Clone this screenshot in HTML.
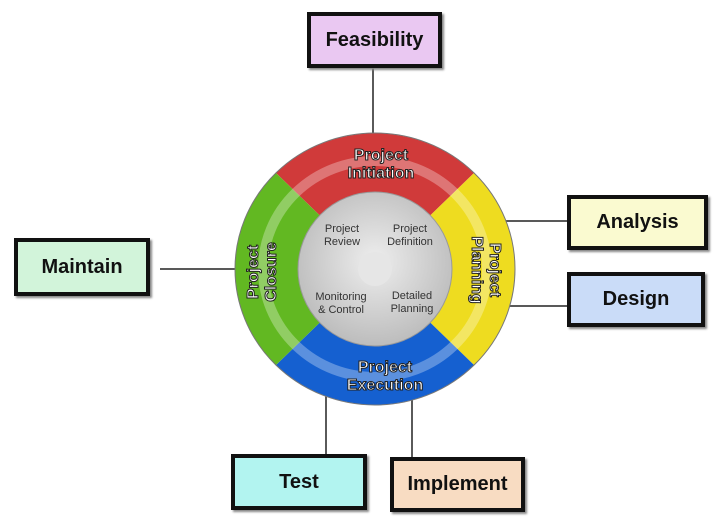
<!DOCTYPE html>
<html><head><meta charset="utf-8"><style>
html,body{margin:0;padding:0;background:#fff;}
.b{position:absolute;border:4px solid #111;box-sizing:border-box;display:flex;align-items:center;justify-content:center;font-family:"Liberation Sans",sans-serif;font-weight:bold;font-size:20px;color:#111;box-shadow:2px 2px 2px #888;}
</style></head><body>
<div style="position:relative;width:721px;height:529px;overflow:hidden;">
<svg width="721" height="529" style="position:absolute;left:0;top:0" font-family="Liberation Sans, sans-serif">
<defs>
<radialGradient id="g" cx="50%" cy="45%" r="60%"><stop offset="0" stop-color="#eee"/><stop offset="1" stop-color="#b8b8b8"/></radialGradient>
</defs>
<g stroke="#222" stroke-width="1.5">
<line x1="373" y1="68" x2="373" y2="134"/>
<line x1="505" y1="221" x2="567" y2="221"/>
<line x1="510" y1="306" x2="567" y2="306"/>
<line x1="160" y1="269" x2="237" y2="269"/>
<line x1="326" y1="395" x2="326" y2="454"/>
<line x1="412" y1="395" x2="412" y2="457"/>
</g>
<g transform="translate(375,269)">
<path d="M0,0 L-99,-96 A140,136 0 0 1 99,-96 Z" fill="#d03a3a"/>
<path d="M0,0 L99,-96 A140,136 0 0 1 99,96 Z" fill="#eedc20"/>
<path d="M0,0 L99,96 A140,136 0 0 1 -99,96 Z" fill="#1560d0"/>
<path d="M0,0 L-99,96 A140,136 0 0 1 -99,-96 Z" fill="#62b822"/>
<ellipse cx="0" cy="0" rx="140" ry="136" fill="none" stroke="#777" stroke-width="1"/>
<ellipse cx="0" cy="0" rx="112" ry="108" fill="none" stroke="#fff" stroke-opacity=".3" stroke-width="10"/>
<circle cx="0" cy="0" r="77" fill="url(#g)" stroke="#999"/>
<circle cx="0" cy="0" r="17" fill="#e6e6e6"/>
</g>
<g font-weight="bold" fill="#fff" stroke="#222" stroke-width="1" font-size="16">
<text text-anchor="middle" x="381" y="160">Project</text>
<text text-anchor="middle" x="381" y="178">Initiation</text>
<text text-anchor="middle" x="385" y="372">Project</text>
<text text-anchor="middle" x="385" y="390">Execution</text>
<text text-anchor="middle" transform="translate(258,272) rotate(-90)">Project</text>
<text text-anchor="middle" transform="translate(276,272) rotate(-90)">Closure</text>
<text text-anchor="middle" transform="translate(490,270) rotate(90)">Project</text>
<text text-anchor="middle" transform="translate(472,270) rotate(90)">Planning</text>
</g>
<g font-size="11" fill="#333" text-anchor="middle">
<text x="342" y="232">Project</text><text x="342" y="245">Review</text>
<text x="410" y="232">Project</text><text x="410" y="245">Definition</text>
<text x="341" y="300">Monitoring</text><text x="341" y="313">&amp; Control</text>
<text x="412" y="299">Detailed</text><text x="412" y="312">Planning</text>
</g>
</svg>
<div class="b" style="left:307px;top:12px;width:135px;height:56px;background:#eac8f2;">Feasibility</div>
<div class="b" style="left:567px;top:195px;width:141px;height:55px;background:#fafad0;">Analysis</div>
<div class="b" style="left:567px;top:272px;width:138px;height:55px;background:#cadcf8;">Design</div>
<div class="b" style="left:14px;top:238px;width:136px;height:58px;background:#d2f4da;">Maintain</div>
<div class="b" style="left:231px;top:454px;width:136px;height:56px;background:#b2f4f0;">Test</div>
<div class="b" style="left:390px;top:457px;width:135px;height:55px;background:#f8dcc2;">Implement</div>
</div>
</body></html>
